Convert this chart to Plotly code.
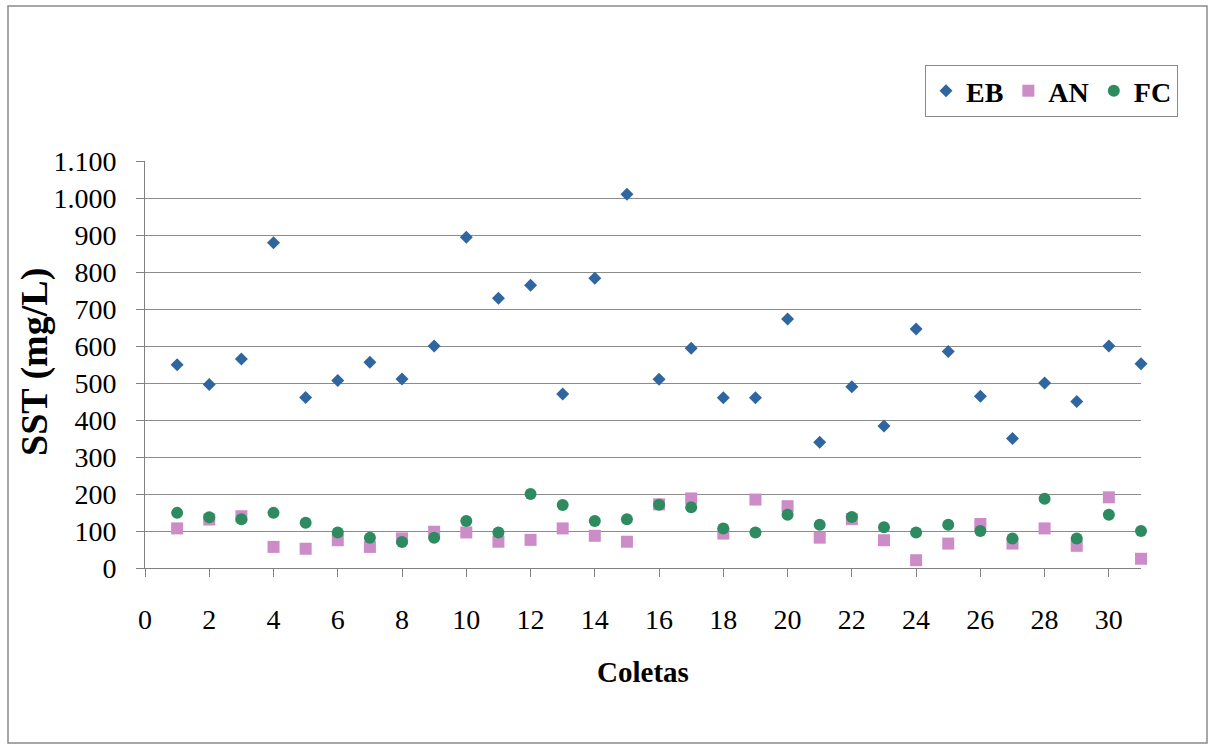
import plotly.graph_objects as go

coletas = list(range(1, 32))
eb = [549, 496, 565, 879, 461, 507, 556, 511, 600, 894,
      729, 764, 470, 783, 1010, 510, 594, 460, 460, 673,
      340, 490, 384, 646, 585, 464, 350, 500, 450, 600, 552]
an = [107, 131, 140, 57, 52, 75, 57, 80, 98, 96,
      71, 76, 107, 87, 71, 172, 188, 93, 185, 167,
      82, 132, 75, 21, 66, 119, 66, 107, 60, 191, 25]
fc = [149, 137, 132, 149, 122, 96, 82, 70, 82, 127,
      96, 200, 170, 127, 132, 171, 164, 107, 96, 144,
      117, 138, 110, 96, 117, 100, 80, 187, 80, 144, 100]

y_ticks = list(range(0, 1101, 100))
y_tick_text = ["0", "100", "200", "300", "400", "500", "600", "700", "800", "900", "1.000", "1.100"]
x_ticks = list(range(0, 31, 2))

C_EB = "#2F66A0"
C_AN = "#CC8CC8"
C_FC = "#2E8B60"

fig = go.Figure()
fig.add_trace(go.Scatter(x=coletas, y=eb, mode="markers", name="EB", cliponaxis=False,
                         marker=dict(symbol="diamond", size=10, color=C_EB)))
fig.add_trace(go.Scatter(x=coletas, y=an, mode="markers", name="AN", cliponaxis=False,
                         marker=dict(symbol="square", size=12, color=C_AN)))
fig.add_trace(go.Scatter(x=coletas, y=fc, mode="markers", name="FC", cliponaxis=False,
                         marker=dict(symbol="circle", size=12, color=C_FC)))

L, R, T, B = 145, 1141, 161, 568
W, H = 1209, 744
pw, ph = R - L, B - T

def px(x):
    return (x - L) / pw

def py(y):
    return (B - y) / ph

fig.update_layout(
    width=W, height=H,
    margin=dict(l=L, r=W - R, t=T, b=H - B, autoexpand=False),
    paper_bgcolor="white", plot_bgcolor="white",
    font=dict(family="Liberation Serif", color="black"),
    showlegend=True,
    legend=dict(orientation="h", x=px(1178), xanchor="right", y=py(65), yanchor="top",
                bordercolor="#8a8a8a", borderwidth=1, bgcolor="white",
                font=dict(family="Liberation Serif", size=28, color="black", weight="bold"),
                itemwidth=30, tracegroupgap=0),
    xaxis=dict(range=[0, 31], tickvals=x_ticks, ticks="outside", ticklen=8,
               tickcolor="#808080", showline=True, linecolor="#808080", linewidth=1,
               showgrid=False, zeroline=False, ticklabelstandoff=18,
               tickfont=dict(size=28, family="Liberation Serif"),
               title=dict(text="<b>Coletas</b>", standoff=28,
                          font=dict(size=29, family="Liberation Serif")),
               automargin=False),
    yaxis=dict(range=[0, 1100], tickvals=y_ticks, ticktext=y_tick_text, ticks="outside",
               ticklen=8, tickcolor="#808080", showline=True, linecolor="#808080",
               linewidth=1, showgrid=True, gridcolor="#8c8c8c", gridwidth=1,
               zeroline=False, ticklabelstandoff=14,
               tickfont=dict(size=28, family="Liberation Serif"),
               automargin=False),
    annotations=[dict(text="<b>SST (mg/L)</b>", xref="paper", yref="paper",
                      x=px(34), y=py(362), xanchor="center", yanchor="middle",
                      textangle=-90, showarrow=False,
                      font=dict(size=38, family="Liberation Serif", color="black"))],
    shapes=[dict(type="rect", xref="paper", yref="paper",
                 x0=px(8), x1=px(1207), y0=py(743), y1=py(6),
                 line=dict(color="#8a8a8a", width=1.5), layer="below")],
)

fig.write_html("out.html")
